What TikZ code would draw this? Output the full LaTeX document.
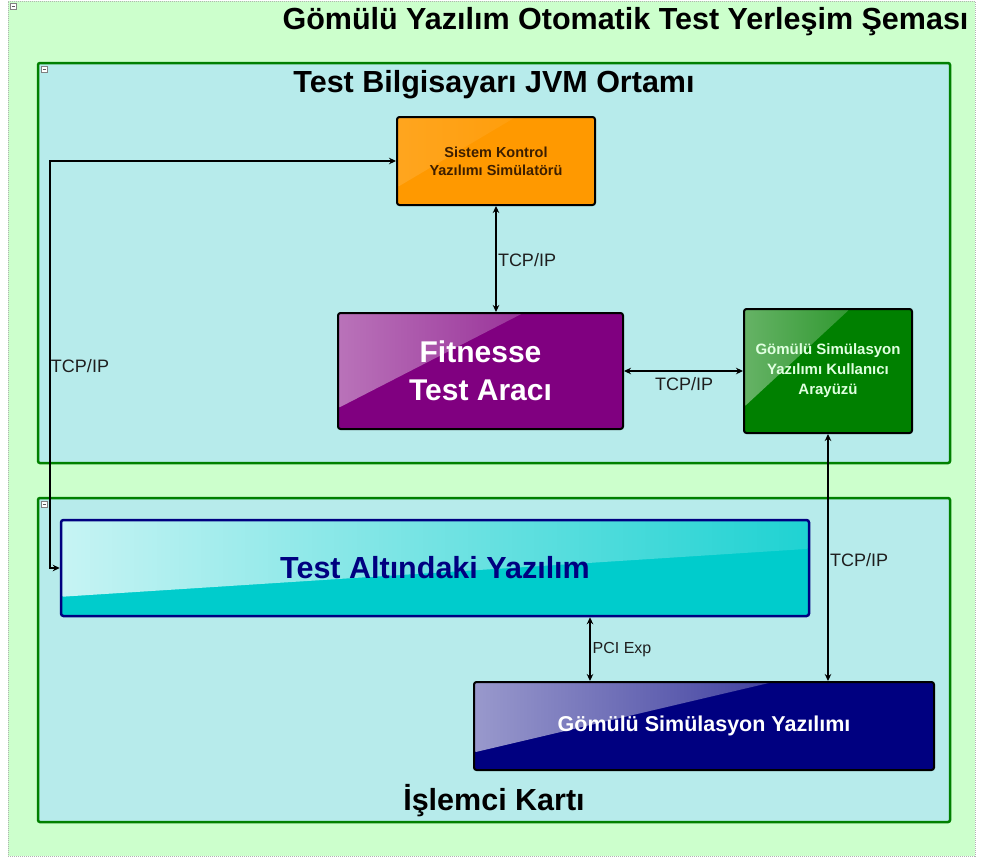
\documentclass[tikz,border=0pt]{standalone}
\usepackage{fontspec}
\setmainfont{Liberation Sans}
\usetikzlibrary{arrows.meta,calc}
\definecolor{bgg}{RGB}{204,255,204}
\definecolor{ccy}{RGB}{183,235,235}
\definecolor{cgr}{RGB}{0,128,0}
\definecolor{orng}{RGB}{255,153,0}
\definecolor{purp}{RGB}{128,0,128}
\definecolor{navyc}{RGB}{0,0,128}
\definecolor{tcyan}{RGB}{0,204,204}
\definecolor{dbrown}{RGB}{60,30,0}
\definecolor{lbl}{RGB}{30,30,30}
\tikzset{
  container/.style={draw=cgr, line width=2.5pt, fill=ccy, rounded corners=2pt},
  ctitle/.style={font=\bfseries\fontsize{30.5}{36}\selectfont, text=black},
  box/.style={draw=black, line width=2pt, rounded corners=2.5pt, align=center},
  gloss/.style n args={4}{path picture={
    \shade[left color=#1, right color=#2]
      (path picture bounding box.north west)
      -- ($(path picture bounding box.north west)!#3!(path picture bounding box.north east)$)
      -- ($(path picture bounding box.north west)!#4!(path picture bounding box.south west)$) -- cycle;}},
  conn/.style={line width=2pt, draw=black, {Stealth[length=7pt,width=6.5pt]}-{Stealth[length=7pt,width=6.5pt]}},
  lab/.style={font=\fontsize{18}{21}\selectfont, text=lbl, inner sep=0pt},
  mini/.style={draw=gray, fill=white, line width=0.4pt, minimum width=6pt, minimum height=6pt, inner sep=0pt,
    path picture={\draw[line width=0.8pt,gray!70!black] ($(path picture bounding box.west)+(1.5pt,0)$) -- ($(path picture bounding box.east)+(-1.5pt,0)$);}}
}
\begin{document}
\begin{tikzpicture}[x=1pt,y=-1pt]
\useasboundingbox (0,0) rectangle (981,859);
% outer
\node[draw=gray!60, dash pattern=on 1pt off 1pt, line width=0.8pt, fill=bgg, minimum width=967pt, minimum height=855pt, inner sep=0pt] (outer) at (491.5,428.5) {};
\node[mini] (m0) at (13,6) {};
\node[ctitle, anchor=east] (title) at (972,22) {Gömülü Yazılım Otomatik Test Yerleşim Şeması};
% containers
\node[container, minimum width=912pt, minimum height=400pt, inner sep=0pt] (jvm) at (494,263) {};
\node[mini] (m1) at (44,69) {};
\node[ctitle] (jvmt) at (494,85) {Test Bilgisayarı JVM Ortamı};
\node[container, minimum width=912pt, minimum height=324pt, inner sep=0pt] (card) at (494,660) {};
\node[mini] (m2) at (44,504) {};
\node[ctitle] (cardt) at (494,801) {İşlemci Kartı};
% boxes
\node[box, fill=orng, minimum width=198pt, minimum height=88pt, text=dbrown,
  font=\bfseries\fontsize{14.5}{18}\selectfont, gloss={orng!88!white}{orng}{0.6}{0.8}] (sks) at (496,161) {Sistem Kontrol\\Yazılımı Simülatörü};
\node[box, fill=purp, minimum width=285pt, minimum height=116pt, text=white,
  font=\bfseries\fontsize{30}{38}\selectfont, gloss={purp!55!white}{purp!93!white}{0.65}{0.82}] (fit) at (480.5,371) {Fitnesse\\Test Aracı};
\node[box, fill=cgr, minimum width=168pt, minimum height=124pt, text=white!88!green,
  font=\bfseries\fontsize{15}{20}\selectfont, gloss={cgr!60!white}{cgr!93!white}{0.63}{0.79}] (gui) at (828,371) {Gömülü Simülasyon\\Yazılımı Kullanıcı\\Arayüzü};
\node[box, draw=navyc, line width=2.5pt, fill=tcyan, minimum width=748pt, minimum height=96pt, text=navyc,
  font=\bfseries\fontsize{30.5}{36}\selectfont,
  path picture={\shade[left color=tcyan!22!white, right color=tcyan!88!white]
      (path picture bounding box.north west) -- (path picture bounding box.north east)
      -- ($(path picture bounding box.north east)!0.3!(path picture bounding box.south east)$)
      -- ($(path picture bounding box.north west)!0.8!(path picture bounding box.south west)$) -- cycle;}] (sut) at (435,568) {Test Altındaki Yazılım};
\node[box, fill=navyc, minimum width=460pt, minimum height=88pt, text=white,
  font=\bfseries\fontsize{21.5}{26}\selectfont, gloss={navyc!40!white}{navyc!93!white}{0.65}{0.8}] (gs) at (704,726) {Gömülü Simülasyon Yazılımı};
% connectors
\draw[conn] (sks.south) -- (sks.south |- fit.north);
\node[lab] (l1) at (527,260) {TCP/IP};
\draw[conn] (fit.east) -- (fit.east -| gui.west);
\node[lab] (l2) at (684,384) {TCP/IP};
\draw[conn] (gui.south) -- (gui.south |- gs.north);
\node[lab] (l3) at (859,560) {TCP/IP};
\coordinate (lc) at (50,0);
\draw[conn] (sks.west) -- (sks.west -| lc) -- (sut.west -| lc) -- (sut.west);
\node[lab] (l4) at (80,366) {TCP/IP};
\coordinate (pc) at ([xshift=117pt]gs.north west);
\draw[conn] (pc |- sut.south) -- (pc);
\node[lab, font=\fontsize{16}{19}\selectfont] (l5) at (622,650) {PCI Exp};
\end{tikzpicture}
\end{document}
